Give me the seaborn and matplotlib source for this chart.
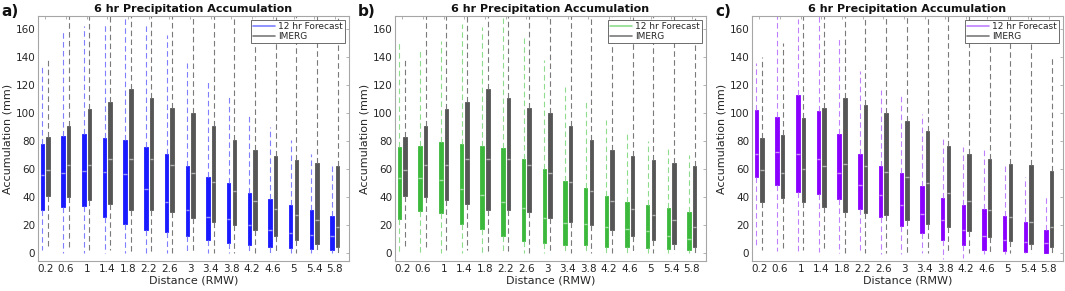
import numpy as np
import pandas as pd
import seaborn as sns
import matplotlib.pyplot as plt
from matplotlib.lines import Line2D

# distance bins (RMW)
distances = ["0.2", "0.6", "1", "1.4", "1.8", "2.2", "2.6", "3", "3.4", "3.8",
             "4.2", "4.6", "5", "5.4", "5.8"]

# five-number summaries (mm): whisker low, Q1, median, Q3, whisker high
# panel a forecast
a_fcst_lo = [2, 0, 0, 0, 0, 0, 0, 0, 0, 0, 0, 0, 0, 0, 0]
a_fcst_q1 = [31, 33, 33.5, 26, 20.5, 16.5, 15, 12.5, 9.5, 7.5, 5.5, 4, 3.5, 3, 2.5]
a_fcst_med = [56, 57, 58.5, 58, 56.5, 45.5, 36.5, 30.5, 26, 24, 20, 16.5, 14.5, 13, 12]
a_fcst_q3 = [78, 84, 85, 82, 81, 76, 71, 62, 54.5, 50, 43, 38.5, 34.5, 30.5, 26.5]
a_fcst_hi = [133, 159, 162, 164, 172, 164, 156, 136, 122, 113, 99, 90, 81, 71, 63]

# panel b forecast
b_fcst_lo = [0, 0, 0, 0, 0, 0, 0, 0, 0, 0, 0, 0, 0, 0, 0]
b_fcst_q1 = [24, 30, 28.5, 20.5, 17, 12, 8.5, 7, 6, 5.5, 4.5, 4, 3.5, 3, 2]
b_fcst_med = [54, 54, 52.5, 46, 41.5, 36.5, 32, 25, 21.5, 20.5, 18.5, 17.5, 16, 12.5, 10]
b_fcst_q3 = [75.5, 76.5, 79.5, 78, 76.5, 75, 67, 60, 51.5, 46.5, 41, 36.5, 34, 32, 29.5]
b_fcst_hi = [150, 145.5, 151.5, 164, 161.5, 168.5, 154, 138, 119, 109, 95, 86, 80, 76, 70]

# panel c forecast
c_fcst_lo = [4, 1.5, 0, 0.5, 0, 0, -0.5, -1, 0, -4.5, -3.5, -0.5, -0.5, 0, 0]
c_fcst_q1 = [54.5, 49, 43.5, 42.5, 38.5, 31.5, 25.5, 19.5, 14, 9, 5.5, 2.5, 1.5, 0.5, 0]
c_fcst_med = [71, 72.5, 70.5, 67, 57.5, 48.5, 41.5, 34.5, 28, 23.5, 16.5, 12.5, 9.5, 8, 7]
c_fcst_q3 = [102.5, 97, 113, 101.5, 85, 71, 62, 57, 48, 39, 34, 31.5, 26.5, 22.5, 16.5]
c_fcst_hi = [136, 185, 167, 185, 154.5, 130, 116.5, 112, 99.5, 82.5, 76, 74.5, 64, 54.5, 40]

# IMERG (same in panels a and b)
imerg_ab_lo = [3, 2, 2, 2, 0, 0, 0, 0, 0, 0, 0, 0, 0, 0, 0]
imerg_ab_q1 = [40.5, 40, 38, 35, 31, 30.5, 29, 25, 22.5, 20, 16.5, 12.5, 9, 6.5, 4.5]
imerg_ab_med = [59.5, 63, 63, 67, 67, 67, 63, 57.5, 51, 44.5, 37.5, 31.5, 27, 23.5, 18.5]
imerg_ab_q3 = [83, 90.5, 103, 108, 117, 111, 104, 100, 91, 81, 74, 69.5, 66.5, 64.5, 62]
imerg_ab_hi = [140, 185, 185, 185, 185, 185, 185, 185, 185, 185, 185, 185, 185, 185, 185]

# IMERG panel c
imerg_c_lo = [2.5, 2, 2.5, 2, 0, 0, 0, 0, 0, 0, 0, 0, 0, 0, 0]
imerg_c_q1 = [36.5, 39.5, 36.5, 33, 29, 28.5, 27, 23.5, 20.5, 18.5, 16, 11.5, 8.5, 6.5, 4.5]
imerg_c_med = [59.5, 57, 60, 62, 64, 62.5, 58, 54.5, 50, 43, 37.5, 30.5, 26, 22, 18.5]
imerg_c_q3 = [82, 84.5, 96.5, 104, 111, 106, 100, 94.5, 87, 76.5, 70.5, 67, 64, 63, 59]
imerg_c_hi = [140, 150.5, 185, 185, 185, 185, 185, 185, 185, 185, 185, 185, 185, 185, 139.5]

FCST = "12 hr Forecast"
IMERG = "IMERG"


def long_frame(lo, q1, med, q3, hi, source):
    # 5 points per bin -> quartiles fall exactly on q1/med/q3, whiskers on min/max
    rows = []
    for i, d in enumerate(distances):
        for v in (lo[i], q1[i], med[i], q3[i], hi[i]):
            rows.append((d, source, v))
    return pd.DataFrame(rows, columns=["dist", "source", "acc"])


panels = [
    ("a)", long_frame(a_fcst_lo, a_fcst_q1, a_fcst_med, a_fcst_q3, a_fcst_hi, FCST),
     long_frame(imerg_ab_lo, imerg_ab_q1, imerg_ab_med, imerg_ab_q3, imerg_ab_hi, IMERG),
     "#1a1aff", "#7f7fff"),
    ("b)", long_frame(b_fcst_lo, b_fcst_q1, b_fcst_med, b_fcst_q3, b_fcst_hi, FCST),
     long_frame(imerg_ab_lo, imerg_ab_q1, imerg_ab_med, imerg_ab_q3, imerg_ab_hi, IMERG),
     "#3cb93c", "#8fdc8f"),
    ("c)", long_frame(c_fcst_lo, c_fcst_q1, c_fcst_med, c_fcst_q3, c_fcst_hi, FCST),
     long_frame(imerg_c_lo, imerg_c_q1, imerg_c_med, imerg_c_q3, imerg_c_hi, IMERG),
     "#8a00ff", "#bf80ff"),
]

sns.set_theme(style="white")
plt.rcParams['font.family'] = ['DejaVu Sans']

fig = plt.figure(figsize=(10.65, 2.91), dpi=100)
lefts = [38, 395, 752]
gray_box = "#565656"
gray_whisk = "#7a7a7a"
spine_col = "#a6a6a6"
text_col = "#262626"

for (tag, df_f, df_i, col, light), left in zip(panels, lefts):
    ax = fig.add_axes([left / 1065, 30 / 291, 311 / 1065, 245 / 291])
    for df, fc, wc in ((df_f, col, light), (df_i, gray_box, gray_whisk)):
        sns.boxplot(data=df, x="dist", y="acc", hue="source", order=distances,
                    hue_order=[FCST, IMERG], palette={FCST: fc, IMERG: fc},
                    dodge=True, saturation=1, whis=(0, 100), width=0.54, gap=0.38,
                    linecolor=fc, linewidth=0.6, showcaps=False, showfliers=False,
                    whiskerprops=dict(color=wc, linestyle=(0, (5, 3)), linewidth=0.8),
                    medianprops=dict(color="white", linewidth=1.0, alpha=0.55),
                    legend=False, ax=ax)
    ax.set_xlim(-0.35, 14.68)
    ax.set_ylim(-5.7, 169.5)
    ax.set_yticks(np.arange(0, 161, 20))
    ax.set_xlabel("Distance (RMW)", fontsize=8, color=text_col, labelpad=1)
    ax.set_ylabel("Accumulation (mm)", fontsize=8, color=text_col, labelpad=2)
    ax.set_title("6 hr Precipitation Accumulation", fontsize=8, fontweight="bold",
                 color="#111111", pad=3)
    ax.tick_params(axis="both", direction="in", length=2.5, width=0.6, top=True,
                   right=True, labelsize=7.5, labelcolor=text_col, color=spine_col, pad=2)
    for s in ax.spines.values():
        s.set_color(spine_col)
        s.set_linewidth(0.8)
    handles = [Line2D([0], [0], color=light, lw=1.2), Line2D([0], [0], color=gray_whisk, lw=1.2)]
    leg = ax.legend(handles, [FCST, IMERG], loc="upper right", fontsize=6.5,
                    frameon=True, fancybox=False, edgecolor="#555555", framealpha=1,
                    handlelength=2.4, borderpad=0.25, labelspacing=0.1,
                    handletextpad=0.4, borderaxespad=0.4)
    leg.get_frame().set_linewidth(0.6)
    fig.text((left - 38) / 1065 + 0.001, 0.985, tag, fontsize=11, fontweight="bold",
             va="top", ha="left", color="#111111")

fig.savefig("out.png", dpi=100)
